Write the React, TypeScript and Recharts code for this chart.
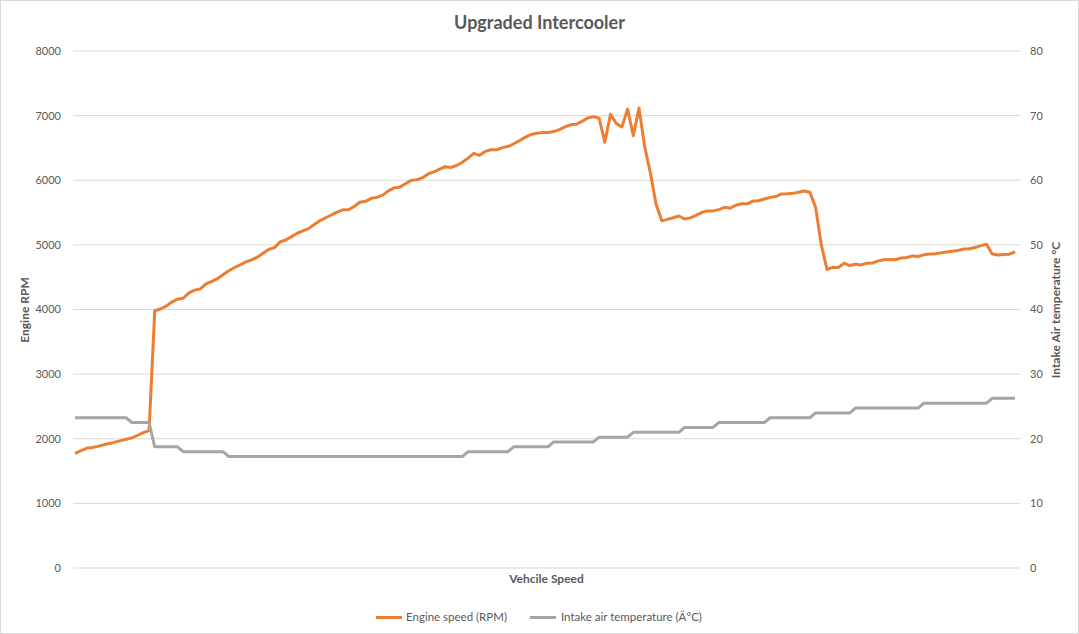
import React from 'react';
import { LineChart, Line, XAxis, YAxis, CartesianGrid } from 'recharts';

const engineRpm: number[] = [
  1775, 1813, 1852, 1866, 1882, 1906, 1926, 1948, 1971, 1993,
  2013, 2054, 2094, 2125, 3980, 4008, 4052, 4115, 4160, 4174,
  4257, 4300, 4318, 4396, 4436, 4477, 4540, 4600, 4650, 4690,
  4737, 4768, 4810, 4870, 4930, 4956, 5046, 5076, 5127, 5180,
  5217, 5251, 5316, 5375, 5420, 5462, 5506, 5542, 5544, 5594,
  5660, 5674, 5720, 5735, 5769, 5836, 5882, 5893, 5945, 5998,
  6006, 6040, 6098, 6130, 6172, 6209, 6198, 6228, 6278, 6342,
  6416, 6385, 6446, 6471, 6471, 6505, 6521, 6564, 6612, 6663,
  6706, 6728, 6737, 6739, 6753, 6783, 6826, 6859, 6866, 6911,
  6963, 6985, 6960, 6590, 7020, 6880, 6825, 7100, 6690, 7116,
  6520, 6110, 5630, 5372, 5395, 5420, 5447, 5400, 5418, 5458,
  5500, 5526, 5526, 5545, 5581, 5568, 5613, 5636, 5635, 5678,
  5682, 5709, 5735, 5748, 5788, 5790, 5797, 5815, 5835, 5815,
  5580, 5000, 4620, 4652, 4650, 4717, 4680, 4700, 4690, 4717,
  4720, 4752, 4770, 4775, 4770, 4796, 4804, 4829, 4820, 4846,
  4858, 4864, 4876, 4889, 4900, 4914, 4935, 4941, 4960, 4989,
  5011, 4860, 4842, 4852, 4856, 4892,
];

const intakeTemp: number[] = [
  23.25, 23.25, 23.25, 23.25, 23.25, 23.25, 23.25, 23.25, 23.25, 23.25,
  22.5, 22.5, 22.5, 22.5,
  18.75, 18.75, 18.75, 18.75, 18.75,
  18, 18, 18, 18, 18, 18, 18, 18,
  17.25, 17.25, 17.25, 17.25, 17.25, 17.25, 17.25, 17.25, 17.25, 17.25,
  17.25, 17.25, 17.25, 17.25, 17.25, 17.25, 17.25, 17.25, 17.25, 17.25,
  17.25, 17.25, 17.25, 17.25, 17.25, 17.25, 17.25, 17.25, 17.25, 17.25,
  17.25, 17.25, 17.25, 17.25, 17.25, 17.25, 17.25, 17.25, 17.25, 17.25,
  17.25, 17.25,
  18, 18, 18, 18, 18, 18, 18, 18,
  18.75, 18.75, 18.75, 18.75, 18.75, 18.75, 18.75,
  19.5, 19.5, 19.5, 19.5, 19.5, 19.5, 19.5, 19.5,
  20.25, 20.25, 20.25, 20.25, 20.25, 20.25,
  21, 21, 21, 21, 21, 21, 21, 21, 21,
  21.75, 21.75, 21.75, 21.75, 21.75, 21.75,
  22.5, 22.5, 22.5, 22.5, 22.5, 22.5, 22.5, 22.5, 22.5,
  23.25, 23.25, 23.25, 23.25, 23.25, 23.25, 23.25, 23.25,
  24, 24, 24, 24, 24, 24, 24,
  24.75, 24.75, 24.75, 24.75, 24.75, 24.75, 24.75, 24.75, 24.75, 24.75, 24.75, 24.75,
  25.5, 25.5, 25.5, 25.5, 25.5, 25.5, 25.5, 25.5, 25.5, 25.5, 25.5, 25.5,
  26.25, 26.25, 26.25, 26.25, 26.25,
];

const rpmTicks = [0, 1000, 2000, 3000, 4000, 5000, 6000, 7000, 8000];
const tempTicks = [0, 10, 20, 30, 40, 50, 60, 70, 80];

const title = 'Upgraded Intercooler';
const xTitle = 'Vehcile Speed';
const leftTitle = 'Engine RPM';
const rightTitle = 'Intake Air temperature °C';
const rpmName = 'Engine speed (RPM)';
const tempName = 'Intake air temperature (Â°C)';

const samples = engineRpm.map((_, i) => i + 1);

const data = samples.map((s, i) => ({
  sample: s,
  rpm: engineRpm[i],
  temp: intakeTemp[i],
}));

const FONT = 'Lato, "Open Sans", sans-serif';
const TEXT = '#595959';
const ORANGE = '#ED7D31';
const GRAY = '#A5A5A5';

export default function App() {
  return (
    <div style={{ position: 'absolute', left: 0, top: 0, width: 1079, height: 634, background: '#fff' }}>
      <LineChart
        width={1079}
        height={634}
        data={data}
        margin={{ top: 51, right: 0, bottom: 66, left: 0 }}
        style={{ fontFamily: FONT }}
      >
        <rect x={0.5} y={0.5} width={1078} height={633} fill="none" stroke="#D9D9D9" />
        <CartesianGrid vertical={false} stroke="#D9D9D9" strokeWidth={1} />
        <XAxis dataKey="sample" hide padding={{ left: 2, right: 5 }} />
        <YAxis
          yAxisId={0}
          orientation="left"
          width={73}
          domain={[0, 8000]}
          ticks={rpmTicks}
          interval={0}
          axisLine={false}
          tickLine={false}
          tickSize={0}
          tickMargin={12}
          tick={{ fill: TEXT, fontSize: 11, fontFamily: FONT }}
          label={{
            content: () => (
              <text
                x={24}
                y={310}
                transform="rotate(-90 24 310)"
                textAnchor="middle"
                dominantBaseline="central"
                fill={TEXT}
                fontSize={12}
                fontWeight="bold"
                fontFamily={FONT}
              >
                {leftTitle}
              </text>
            ),
          }}
        />
        <YAxis
          yAxisId="right"
          orientation="right"
          width={59}
          domain={[0, 80]}
          ticks={tempTicks}
          interval={0}
          axisLine={false}
          tickLine={false}
          tickSize={0}
          tickMargin={10}
          tick={{ fill: TEXT, fontSize: 11, fontFamily: FONT }}
          label={{
            content: () => (
              <text
                x={1055}
                y={310}
                transform="rotate(-90 1055 310)"
                textAnchor="middle"
                dominantBaseline="central"
                fill={TEXT}
                fontSize={12}
                fontWeight="bold"
                fontFamily={FONT}
              >
                {rightTitle}
              </text>
            ),
          }}
        />
        <Line
          yAxisId={0}
          type="linear"
          dataKey="rpm"
          name={rpmName}
          stroke={ORANGE}
          strokeWidth={3}
          dot={false}
          activeDot={false}
          isAnimationActive={false}
          strokeLinejoin="round"
        />
        <Line
          yAxisId="right"
          type="linear"
          dataKey="temp"
          name={tempName}
          stroke={GRAY}
          strokeWidth={3}
          dot={false}
          activeDot={false}
          isAnimationActive={false}
          strokeLinejoin="round"
        />
      </LineChart>
      <div
        style={{
          position: 'absolute',
          left: 0,
          top: 11,
          width: 1079,
          textAlign: 'center',
          fontFamily: FONT,
          fontSize: 18,
          fontWeight: 'bold',
          color: TEXT,
        }}
      >
        {title}
      </div>
      <div
        style={{
          position: 'absolute',
          left: 73,
          top: 571,
          width: 947,
          textAlign: 'center',
          fontFamily: FONT,
          fontSize: 12,
          fontWeight: 'bold',
          color: TEXT,
        }}
      >
        {xTitle}
      </div>
      <div
        style={{
          position: 'absolute',
          left: 376,
          top: 609,
          display: 'flex',
          alignItems: 'center',
          fontFamily: FONT,
          fontSize: 11.5,
          color: TEXT,
          whiteSpace: 'nowrap',
          lineHeight: '16px',
        }}
      >
        <div style={{ width: 26, height: 3, background: ORANGE, marginRight: 4 }} />
        <span style={{ marginRight: 23 }}>{rpmName}</span>
        <div style={{ width: 26, height: 3, background: GRAY, marginRight: 5 }} />
        <span>{tempName}</span>
      </div>
    </div>
  );
}
